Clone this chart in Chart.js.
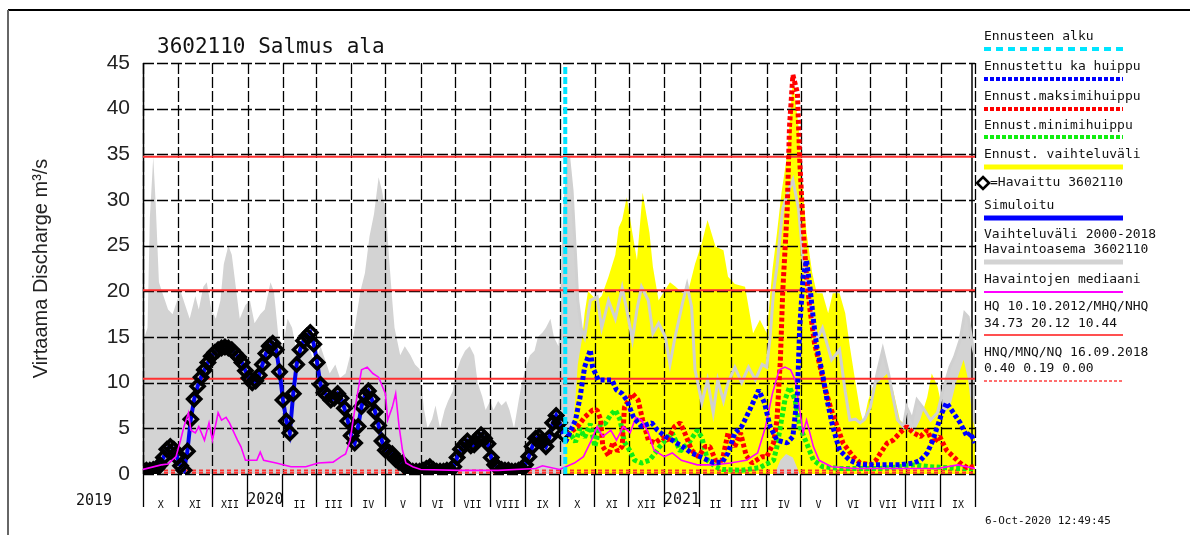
<!DOCTYPE html>
<html>
<head>
<meta charset="utf-8">
<script src="https://cdn.jsdelivr.net/npm/chart.js@4.4.1/dist/chart.umd.min.js"></script>
<style>
html, body { margin: 0; padding: 0; background: #fff; }
#wrap { width: 1190px; height: 535px; position: relative; }
</style>
</head>
<body>
<div id="wrap"><canvas id="myChart"></canvas></div>
<script>
// x values are days counted from 1 Oct 2019
var monthLabels = ['X','XI','XII','','II','III','IV','V','VI','VII','VIII','IX',
                   'X','XI','XII','','II','III','IV','V','VI','VII','VIII','IX']
var yearLabels = ['2019', '2020', '2021']
var yTicks = [0, 5, 10, 15, 20, 25, 30, 35, 40, 45]

var forecastStart = 371   // 6 Oct 2020
var hqLevels = [34.73, 20.12, 10.44]
var nqLevels = [0.40, 0.19, 0.00]

// Vaihteluväli 2000-2018 (upper envelope)
var grayDays = [0,4,6,9,11,14,18,22,26,30,33,37,41,46,49,53,56,60,64,68,71,75,78,82,85,90,94,98,103,107,112,115,119,123,127,131,134,138,142,147,151,156,160,164,169,173,178,182,186,191,195,199,203,207,210,214,216,219,221,226,230,235,239,243,247,250,254,257,261,265,268,272,275,279,283,287,291,294,298,301,305,308,312,315,319,322,326,330,333,337,340,344,347,351,354,358,361,365,368,371,374,377,380,382,385,388,393,399,403,409,415,421,425,430,434,438,444,448,453,459,463,467,474,478,482,485,491,496,501,505,510,514,520,526,532,538,544,548,551,554,557,562,567,571,576,580,586,592,597,605,612,617,621,626,630,634,639,645,650,655,659,663,668,671,676,680,685,692,698,703,709,713,718,722,725,729,731]
var grayMax  = [14.5,16,28,34.7,30,21,19.5,18,17.5,19,20,18.5,17,19.5,18,20.5,21,18,17,19,23,25,24,20,17,18.5,19,16.5,17.5,18,21,20,15,14,17,16,14,13,15,13.5,12,14,12.5,11,12,10.5,11,13,16,20,22,26,28.5,32.5,31,28,24,19,16,13,14,13,12,11.5,7,5,6,7.5,5,7,8,9,11,12.5,13.5,14,13,10,8.5,7,8,7,8,7.5,8,7,5,8,10,12,13,13.5,15,15.5,16,17,15,14,20,30,34.7,31,24,19,16,15,19,19.4,16,19,17,20.4,18,14.7,18,20.5,19,15.4,16.5,15,12,14.7,18.7,20.7,18.3,11.4,7.8,10.3,6.7,10.3,8,10,11.7,10,11.7,10.3,12,11.7,15,20,22.7,29,31,32.2,29,23.4,19,14.7,16,12.5,13.6,9,5.9,6,5.6,6,7.3,11,13.6,11,8.4,5.9,5.2,7.3,5.9,8.1,7.3,5.9,6.7,9.2,11.7,12.8,14.7,17.6,17.2,14,13]

// Ennust. vaihteluväli (forecast range)
var rangeDays = [371,373,377,380,382,386,388,391,395,399,403,409,415,418,421,425,430,434,439,445,448,453,458,463,468,474,479,485,491,496,503,510,514,520,529,536,542,548,553,557,561,566,569,571,576,580,583,588,592,597,602,606,612,617,621,626,630,633,637,641,648,654,659,665,671,677,683,689,693,698,703,709,715,721,725,729,731]
var rangeHigh = [3,4,4.8,8.4,12,15,17.6,20,19.5,19,19.5,21.6,24,27,27.8,30.3,26.4,23.4,30.8,26.4,22.7,19,20,21,20.5,19.8,20,23,25.3,27.8,24.9,24.5,21.6,20.8,20.5,15.4,16.9,15.4,22.3,26.4,30.8,35,39.9,43.2,38,30.8,26.4,22,19.8,19.8,17.6,19.8,19.8,17.6,14,10,7,5.6,8,9.5,10.3,11,9.2,5.9,5.2,4.5,6,8.4,11,9.6,6.7,7.3,10.3,12.5,10.3,5.9,5]
var rangeLowDays = [371,555,560,565,571,577,731]
var rangeLow = [0,0,1.5,2.2,1.8,0,0]

// Havaittu 3602110, one value every 3 days from 1 Oct 2019
var obsStep = 3
var observed = [0.4,0.4,0.4,0.5,0.6,1.0,1.8,2.7,3.0,2.7,1.8,0.9,0.4,2.5,6.0,8.2,9.6,10.6,11.4,12.2,12.9,13.3,13.6,13.8,13.9,13.8,13.6,13.2,12.8,12.2,11.3,10.5,10.0,10.2,10.8,12.0,13.2,14.0,14.3,13.6,11.2,8.1,5.8,4.5,8.8,12.0,13.6,14.6,15.1,15.5,14.2,12.2,9.8,8.9,8.6,8.1,8.3,8.8,8.3,7.2,5.8,4.2,3.4,5.2,7.4,8.6,9.1,8.2,6.8,5.3,3.6,2.6,2.4,2.2,1.6,1.3,1.2,0.7,0.4,0.3,0.3,0.3,0.4,0.6,0.8,0.5,0.3,0.3,0.3,0.4,0.4,0.8,1.8,2.7,3.2,3.6,3.1,3.2,3.9,4.3,3.9,3.3,1.8,1.0,0.7,0.5,0.4,0.4,0.3,0.3,0.4,0.5,1.0,1.9,3.0,3.9,4.1,3.6,3.0,4.0,5.6,6.4,5.6,4.4]

// Ennustettu ka huippu
var meanDays = [371,373,380,384,388,393,395,400,406,412,416,421,425,431,438,447,452,459,465,474,482,491,500,509,514,520,526,533,541,546,551,557,566,571,575,577,580,583,586,589,592,597,601,606,612,621,630,648,665,677,683,689,694,698,702,706,712,718,724,727,731]
var meanPeak = [3.5,4,5.9,8.4,11.7,13.6,11.7,10.3,10.3,10.3,9.2,8.8,8.1,6.2,5.2,5.6,4.8,4.1,3.7,3,2.3,1.8,1.3,1.3,2.3,4.5,5.2,7,9.2,7.8,5.2,3.7,3.4,4.1,8.8,16.1,21.6,23.4,20.5,16.9,13.9,11,8.1,5.2,2.6,1.5,1,1,1,1.2,1.5,2.3,3.7,5.2,6.7,7.8,6.7,5.6,4.1,4.5,3.4]

// Ennust.maksimihuippu
var maxDays = [371,375,382,388,395,399,402,404,409,413,417,421,423,430,435,439,444,450,456,461,467,472,476,482,488,494,498,503,509,514,520,525,530,535,544,548,554,557,560,562,566,568,571,575,577,580,583,586,590,595,599,604,610,615,624,630,639,644,648,654,659,665,671,677,683,689,694,700,706,712,718,724,731]
var maxPeak = [3.5,4.5,5.2,6.2,7,7,6,3,2,3.5,2.5,3,7.3,8.8,8.1,5.9,3.7,3.4,4,3.7,5.2,5.6,4.5,2.6,1.9,3,3,1.5,1.5,4.5,3,4.5,2,1.2,1.9,1.9,3.4,5.9,12.5,19.8,28.9,38,43.7,41.7,34.4,27,21.6,18,14.3,11.7,9.5,7.3,5.2,3.4,1.9,1.2,1,1.5,2.3,3.4,3.7,4.5,5.2,4.5,4.1,4.8,3.4,4.1,2.6,1.9,1.2,0.7,0.8]

// Ennust.minimihuippu
var minDays = [371,375,380,384,388,393,397,402,406,411,415,419,423,428,432,438,445,450,454,459,465,472,480,487,491,496,503,509,526,542,554,557,560,564,568,573,577,583,589,597,612,648,665,678,691,718,731]
var minPeak = [3.5,4.5,3.5,5,4,5.5,3,5.5,5.5,6.5,7,6,3.5,2.5,1.5,1.2,1.5,2.3,3,3.7,4.5,2.5,3.5,4.8,4,1.5,0.8,0.5,0.4,0.7,1.5,3,5.2,8.1,9.5,8.1,5.2,3.4,1.5,0.8,0.6,0.6,0.8,1,0.8,0.6,0.6]

// Havaintojen mediaani
var medianDays = [0,16,22,29,33,36,40,42,46,49,54,58,61,66,69,73,76,83,86,90,97,100,103,106,117,130,143,154,167,174,178,182,185,189,192,197,202,207,213,215,219,222,225,228,231,237,244,278,312,345,351,366,379,387,394,399,404,411,416,422,428,433,438,444,449,458,465,473,487,501,516,530,540,547,553,559,564,569,573,576,580,583,589,594,605,626,698,716,731]
var median = [0.5,1,1.1,1.9,3.7,5.2,6.7,4.8,4.5,5.2,3.7,5.6,3.7,6.7,5.9,6.2,5.6,3.7,3,1.5,1.5,1.5,2.4,1.5,1.2,0.8,0.8,1.2,1.3,1.9,2.2,3.7,6.2,9.2,11.4,11.7,11,10.6,8.8,5.9,7.3,8.8,5.2,2.6,1.2,0.8,0.5,0.4,0.4,0.6,0.9,0.5,1.2,1.9,3.7,5.2,4.1,4.8,3.7,5.2,4.5,6.2,5.9,4.5,2.6,1.9,2.3,1.5,1,1,1.2,1.5,2.3,5.2,8.8,11.4,11.7,11.4,10.3,7.8,4.5,5.9,3,1.5,0.8,0.6,0.6,1,0.6]

var legendRows = [
    {text: ['Ennusteen alku'], ty: [37], ly: 49, color: '#00e5ff', width: 4, dash: [7, 5]},
    {text: ['Ennustettu ka huippu'], ty: [67], ly: 79, color: '#0000ff', width: 4, dash: [4, 2]},
    {text: ['Ennust.maksimihuippu'], ty: [97], ly: 109, color: '#ff0000', width: 4, dash: [4, 2]},
    {text: ['Ennust.minimihuippu'], ty: [126], ly: 137, color: '#11ee11', width: 4, dash: [4, 2]},
    {text: ['Ennust. vaihteluväli'], ty: [155], ly: 167, color: '#ffff00', width: 5, dash: []},
    {text: ['=Havaittu 3602110'], ty: [183], ly: null, diamond: true},
    {text: ['Simuloitu'], ty: [206], ly: 218, color: '#0000ff', width: 5, dash: []},
    {text: ['Vaihteluväli 2000-2018', 'Havaintoasema 3602110'], ty: [235, 250], ly: 262, color: '#d3d3d3', width: 5, dash: []},
    {text: ['Havaintojen mediaani'], ty: [280], ly: 292, color: '#ff00ff', width: 2, dash: []},
    {text: ['HQ 10.10.2012/MHQ/NHQ', '34.73 20.12 10.44'], ty: [307, 324], ly: 335, color: '#ff5050', width: 2, dash: []},
    {text: ['HNQ/MNQ/NQ 16.09.2018', '0.40 0.19 0.00'], ty: [353, 369], ly: 381, color: '#ff4040', width: 1.5, dash: [3, 2]}
]

var start = Date.UTC(2019, 9, 1)
var monthStarts = []
for (let m = 0; m <= 24; m++) {
    monthStarts.push((Date.UTC(2019, 9 + m, 1) - start) / 864e5)
}
var monthMids = []
for (let m = 0; m < 24; m++) {
    monthMids.push((monthStarts[m] + monthStarts[m + 1]) / 2)
}
var xTicks = []
for (let m = 0; m < 24; m++) {
    xTicks.push({value: monthStarts[m]})
    xTicks.push({value: monthMids[m]})
}
xTicks.push({value: monthStarts[24]})

function pts(days, vals) {
    return days.map((d, i) => ({x: d, y: vals[i]}))
}
function level(v) {
    return [{x: 0, y: v}, {x: monthStarts[24], y: v}]
}

var obsPoints = observed.map((v, i) => ({x: i * obsStep, y: v}))
var grayAll = pts(grayDays, grayMax)
var grayForecast = grayAll.filter(p => p.x >= forecastStart - 3)

var datasets = [
    {id: 'gray', data: grayAll, borderColor: 'rgba(0,0,0,0)', borderWidth: 0, backgroundColor: '#d3d3d3', fill: 'origin', order: 20},
    {id: 'rangeLow', data: pts(rangeLowDays, rangeLow), borderColor: 'rgba(0,0,0,0)', borderWidth: 0, fill: false, order: 19},
    {id: 'range', data: pts(rangeDays, rangeHigh), borderColor: 'rgba(0,0,0,0)', borderWidth: 0, backgroundColor: '#ffff00', fill: 1, order: 18},
    {id: 'grayLine', data: grayForecast, borderColor: '#d0d0d0', borderWidth: 3, fill: false, order: 17}
]
hqLevels.forEach(function (v) {
    datasets.push({data: level(v), borderColor: '#ff3030', borderWidth: 2, fill: false, order: 16})
})
nqLevels.forEach(function (v) {
    datasets.push({data: level(v), borderColor: '#ff3030', borderWidth: 1.5, borderDash: [4, 3], fill: false, order: 15})
})
datasets.push(
    {id: 'sim', data: obsPoints, borderColor: '#0000ee', borderWidth: 4, fill: false, order: 8},
    {id: 'obs', data: obsPoints, showLine: false, pointStyle: 'rectRot', pointRadius: 6.5, pointBorderWidth: 3.6,
        pointBorderColor: '#000', pointBackgroundColor: 'rgba(0,0,0,0)', order: 7},
    {id: 'min', data: pts(minDays, minPeak), borderColor: '#11ee11', borderWidth: 5, borderDash: [4, 2.5], borderJoinStyle: 'bevel', fill: false, order: 6},
    {id: 'max', data: pts(maxDays, maxPeak), borderColor: '#ff0000', borderWidth: 5, borderDash: [4, 2.5], borderJoinStyle: 'bevel', fill: false, order: 5},
    {id: 'median', data: pts(medianDays, median), borderColor: '#ff00ff', borderWidth: 1.6, fill: false, order: 4},
    {id: 'mean', data: pts(meanDays, meanPeak), borderColor: '#0000ff', borderWidth: 5, borderDash: [4, 2.5], borderJoinStyle: 'bevel', fill: false, order: 3},
    {id: 'start', data: [{x: forecastStart, y: 0}, {x: forecastStart, y: 44.6}], borderColor: '#00e5ff', borderWidth: 4, borderDash: [7, 3], fill: false, order: 1}
)

// grid is drawn over the shaded areas, under the lines
var gridOver = {
    id: 'gridOver',
    afterDatasetDraw(chart, args) {
        if (chart.data.datasets[args.index].id !== 'range') return
        var ctx = chart.ctx
        var a = chart.chartArea
        var x = chart.scales.x, y = chart.scales.y
        ctx.save()
        ctx.strokeStyle = '#000'
        ctx.lineWidth = 1.3
        ctx.setLineDash([11, 3])
        yTicks.forEach(function (v) {
            var py = Math.round(y.getPixelForValue(v)) + 0.5
            ctx.beginPath(); ctx.moveTo(a.left, py); ctx.lineTo(a.right, py); ctx.stroke()
        })
        monthStarts.forEach(function (d) {
            var px = Math.round(x.getPixelForValue(d)) + 0.5
            ctx.beginPath(); ctx.moveTo(px, a.top); ctx.lineTo(px, a.bottom); ctx.stroke()
        })
        ctx.setLineDash([])
        ctx.lineWidth = 1.5
        ctx.beginPath(); ctx.moveTo(a.left + 0.5, a.top); ctx.lineTo(a.left + 0.5, a.bottom); ctx.stroke()
        ctx.beginPath(); ctx.moveTo(a.right - 3, a.top); ctx.lineTo(a.right - 3, a.bottom); ctx.stroke()
        ctx.restore()
    }
}

var decor = {
    id: 'decor',
    afterDraw(chart) {
        var ctx = chart.ctx
        var a = chart.chartArea
        var x = chart.scales.x
        ctx.save()
        // frame
        ctx.strokeStyle = '#000'
        ctx.lineWidth = 2
        ctx.beginPath(); ctx.moveTo(8, 10); ctx.lineTo(1190, 10); ctx.stroke()
        ctx.strokeStyle = '#666'
        ctx.beginPath(); ctx.moveTo(8, 10); ctx.lineTo(8, 535); ctx.stroke()

        ctx.fillStyle = '#111'
        ctx.textBaseline = 'middle'
        ctx.font = '21px "DejaVu Sans Mono"'
        ctx.textAlign = 'left'
        ctx.fillText('3602110 Salmus ala', 157, 48)

        // year labels
        ctx.font = '15px "DejaVu Sans Mono"'
        ctx.textAlign = 'center'
        ctx.fillText(yearLabels[0], a.left - 49, 501)
        ctx.fillText(yearLabels[1], x.getPixelForValue(monthMids[3]), 500)
        ctx.fillText(yearLabels[2], x.getPixelForValue(monthMids[15]), 500)

        // legend
        var lx = 984, lw = 139
        ctx.textAlign = 'left'
        ctx.font = '13px "DejaVu Sans Mono"'
        legendRows.forEach(function (r) {
            r.text.forEach(function (t, i) {
                ctx.fillStyle = '#111'
                ctx.fillText(t, r.diamond ? 990 : lx, r.ty[i])
            })
            if (r.diamond) {
                ctx.strokeStyle = '#000'
                ctx.lineWidth = 2.6
                ctx.beginPath()
                ctx.moveTo(983, r.ty[0] - 6); ctx.lineTo(989, r.ty[0]); ctx.lineTo(983, r.ty[0] + 6); ctx.lineTo(977, r.ty[0])
                ctx.closePath(); ctx.stroke()
            } else {
                ctx.strokeStyle = r.color
                ctx.lineWidth = r.width
                ctx.setLineDash(r.dash)
                ctx.beginPath(); ctx.moveTo(lx, r.ly); ctx.lineTo(lx + lw, r.ly); ctx.stroke()
                ctx.setLineDash([])
            }
        })

        ctx.fillStyle = '#111'
        ctx.font = '11px "DejaVu Sans Mono"'
        ctx.fillText('6-Oct-2020 12:49:45', 985, 521)
        ctx.restore()
    }
}

var ctx = document.getElementById('myChart').getContext('2d')
var myChart = new Chart(ctx, {
    type: 'line',
    data: {datasets: datasets},
    options: {
        responsive: true,
        maintainAspectRatio: false,
        animation: false,
        devicePixelRatio: 1,
        layout: {padding: {left: 0, top: 63, right: 215, bottom: 0}},
        elements: {
            point: {radius: 0, hoverRadius: 0},
            line: {tension: 0, borderCapStyle: 'butt', borderJoinStyle: 'miter'}
        },
        plugins: {
            legend: {display: false},
            tooltip: {enabled: false}
        },
        scales: {
            x: {
                type: 'linear',
                min: monthStarts[0],
                max: monthStarts[24],
                afterBuildTicks: function (scale) { scale.ticks = xTicks.slice() },
                afterFit: function (scale) { scale.height = 61 },
                border: {display: false},
                grid: {
                    drawOnChartArea: false,
                    drawTicks: true,
                    tickLength: 33,
                    tickWidth: 1.3,
                    tickColor: function (c) { return c.index % 2 === 0 ? '#000' : 'rgba(0,0,0,0)' }
                },
                ticks: {
                    autoSkip: false,
                    maxRotation: 0,
                    minRotation: 0,
                    padding: -8,
                    color: '#111',
                    font: {family: 'DejaVu Sans Mono', size: 10},
                    callback: function (value, index) {
                        return index % 2 === 1 ? monthLabels[(index - 1) / 2] : ''
                    }
                }
            },
            y: {
                min: 0,
                max: 45,
                afterBuildTicks: function (scale) { scale.ticks = yTicks.map(v => ({value: v})) },
                afterFit: function (scale) { scale.width = 143 },
                border: {display: false},
                grid: {display: false, drawTicks: false},
                ticks: {
                    padding: 13,
                    color: '#222',
                    font: {family: 'Liberation Sans', size: 21}
                },
                title: {
                    display: true,
                    text: 'Virtaama Discharge m³/s',
                    color: '#222',
                    font: {family: 'Liberation Sans', size: 20},
                    padding: {top: 29, bottom: 0}
                }
            }
        }
    },
    plugins: [gridOver, decor]
})
</script>
</body>
</html>
